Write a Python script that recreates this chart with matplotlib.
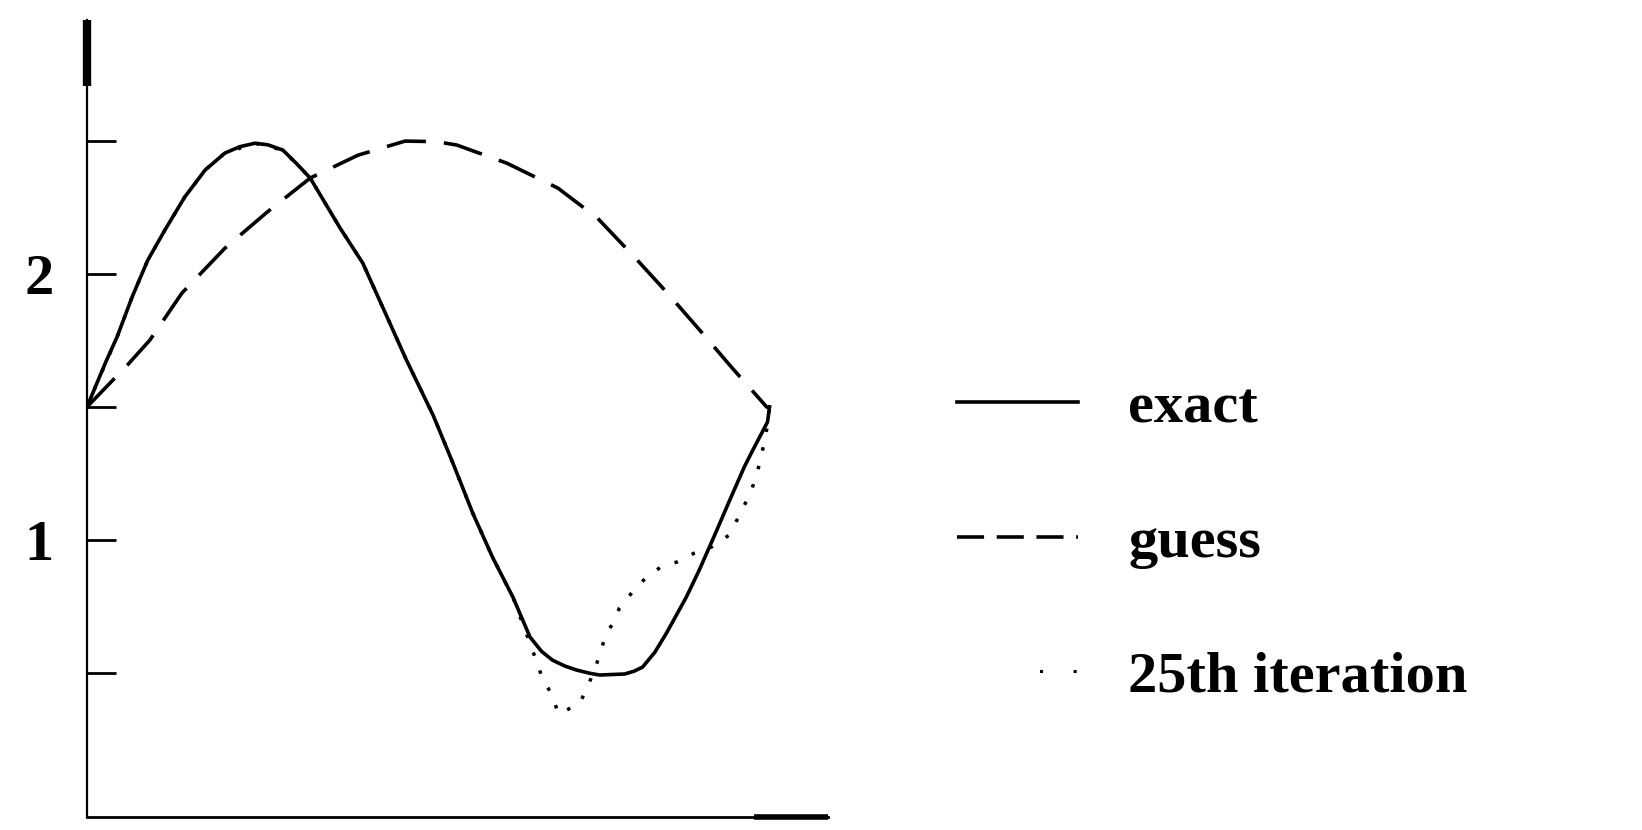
import matplotlib
matplotlib.use("Agg")
import matplotlib.pyplot as plt
from matplotlib.lines import Line2D

plt.rcParams['font.family'] = ['Liberation Serif', 'DejaVu Serif']
plt.rcParams['font.weight'] = 'bold'

# values (x scaled 0..1 along the curve span)
exact_x = [0.0, 0.012, 0.028, 0.044, 0.066, 0.089, 0.114, 0.143, 0.173, 0.202,
           0.224, 0.246, 0.265, 0.287, 0.306, 0.327, 0.370, 0.404, 0.433, 0.468,
           0.507, 0.536, 0.565, 0.594, 0.624, 0.649, 0.666, 0.682, 0.700, 0.717,
           0.736, 0.751, 0.769, 0.788, 0.802, 0.814, 0.832, 0.849, 0.878, 0.897,
           0.920, 0.943, 0.963, 0.974, 0.997, 1.0]
exact_y = [1.50, 1.574, 1.672, 1.763, 1.913, 2.052, 2.165, 2.289, 2.391, 2.455,
           2.479, 2.492, 2.486, 2.466, 2.418, 2.361, 2.176, 2.041, 1.876, 1.676,
           1.469, 1.289, 1.101, 0.935, 0.784, 0.634, 0.580, 0.547, 0.525, 0.510,
           0.498, 0.491, 0.493, 0.495, 0.506, 0.521, 0.577, 0.649, 0.784, 0.886,
           1.020, 1.157, 1.274, 1.330, 1.443, 1.50]

guess_x = [0.0, 0.059, 0.092, 0.139, 0.202, 0.264, 0.327, 0.397, 0.466, 0.512,
           0.542, 0.615, 0.690, 0.748, 0.802, 0.849, 0.900, 0.944, 0.996, 1.0]
guess_y = [1.50, 1.657, 1.751, 1.928, 2.097, 2.233, 2.361, 2.447, 2.500, 2.498,
           2.485, 2.417, 2.323, 2.210, 2.064, 1.932, 1.782, 1.650, 1.499, 1.50]

iter_x = [0.0, 0.012, 0.044, 0.066, 0.089, 0.114, 0.143, 0.173, 0.202, 0.246,
          0.287, 0.327, 0.370, 0.404, 0.433, 0.468, 0.507, 0.536, 0.565, 0.594,
          0.624, 0.659, 0.666, 0.681, 0.691, 0.722, 0.735, 0.747, 0.761, 0.773,
          0.780, 0.799, 0.821, 0.843, 0.864, 0.890, 0.915, 0.941, 0.956, 0.972,
          0.981, 0.988, 0.997, 1.0]
iter_y = [1.50, 1.574, 1.763, 1.913, 2.052, 2.165, 2.289, 2.391, 2.455, 2.492,
          2.466, 2.361, 2.176, 2.041, 1.876, 1.676, 1.469, 1.289, 1.101, 0.935,
          0.784, 0.540, 0.487, 0.416, 0.344, 0.385, 0.456, 0.536, 0.649, 0.694,
          0.743, 0.803, 0.863, 0.901, 0.916, 0.950, 0.973, 1.018, 1.093, 1.176,
          1.243, 1.315, 1.430, 1.50]

y_ticks = [0.5, 1.0, 1.5, 2.0, 2.5]
y_tick_labels = ['', '1', '', '2', '']
labels = ['exact', 'guess', '25th iteration']

fig = plt.figure(figsize=(16.42, 8.30), dpi=100)
ax = fig.add_axes([0.053, 0.0157, 0.451, 0.960])

ax.plot(iter_x, iter_y, color='black', lw=2.5, linestyle=(0, (1, 4.5)))
ax.plot(exact_x, exact_y, color='black', lw=2.6, solid_joinstyle='round')
ax.plot(guess_x, guess_y, color='black', lw=2.6, linestyle=(0, (11, 5)))

ax.set_xlim(0, 1.085)
ax.set_ylim(-0.043, 2.955)

for s in ['top', 'right']:
    ax.spines[s].set_visible(False)
ax.spines['left'].set_linewidth(1.6)
ax.spines['bottom'].set_linewidth(2.0)

# thickened ends of the axes, as in the scan
ax.plot([0, 0], [0.918, 1.0], color='black', lw=6, transform=ax.transAxes,
        clip_on=False, solid_capstyle='butt')
ax.plot([0.901, 1.0], [0, 0], color='black', lw=4, transform=ax.transAxes,
        clip_on=False, solid_capstyle='butt')

ax.set_xticks([])
ax.set_yticks(y_ticks)
ax.set_yticklabels(y_tick_labels)
ax.tick_params(axis='y', direction='in', length=21, width=2, pad=24,
               labelsize=42)

handles = [
    Line2D([], [], color='black', lw=2.6),
    Line2D([], [], color='black', lw=2.6, linestyle=(0, (7.5, 3.5))),
    # only two faint dots at the right end of the handle, as in the scan
    Line2D([], [], color='black', lw=2.2, linestyle=(35, (1, 10, 1, 50))),
]
fig.legend(handles, labels, loc='upper left', bbox_to_anchor=(0.583, 0.54),
           frameon=False, borderpad=0, borderaxespad=0, handlelength=2.07,
           handletextpad=0.86, labelspacing=1.4, prop={'size': 42, 'weight': 'bold'})

fig.savefig('out.png', dpi=100)
